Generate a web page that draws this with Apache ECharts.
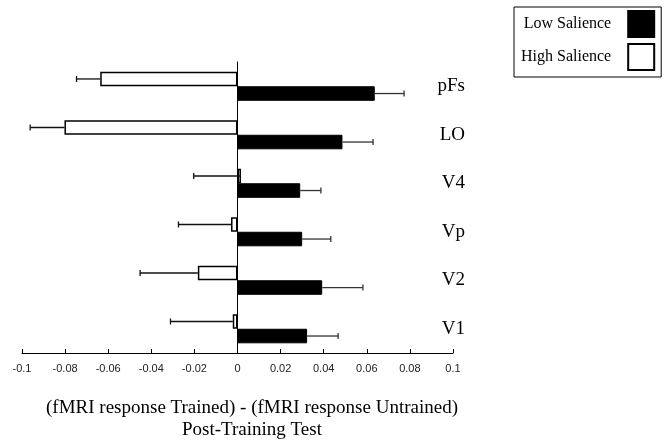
<!DOCTYPE html>
<html>
<head>
<meta charset="utf-8">
<script src="https://cdn.jsdelivr.net/npm/echarts@6/dist/echarts.min.js"></script>
<style>html,body{margin:0;padding:0;background:#fff}#c{width:665px;height:441px}</style>
</head>
<body>
<div id="c"></div>
<script>
var categories = ['pFs', 'LO', 'V4', 'Vp', 'V2', 'V1'];
var lowSalience = [0.0637, 0.0487, 0.0291, 0.0300, 0.0393, 0.0323];
var lowErrorEnd = [0.0773, 0.0629, 0.0387, 0.0433, 0.0582, 0.0467];
var highSalience = [-0.0637, -0.0803, 0.0016, -0.0030, -0.0184, -0.0022];
var highErrorEnd = [-0.0747, -0.0962, -0.0203, -0.0274, -0.0452, -0.0311];
var xTicks = { min: -0.1, max: 0.1, interval: 0.02 };

var SERIF = '"Liberation Serif", "DejaVu Serif", serif';
var SANS = '"Liberation Sans", Arial, sans-serif';

function errData(vals, ends) {
  return vals.map(function (v, i) { return [i, v, ends[i]]; });
}
function errRender(sign, color) {
  return function (params, api) {
    var idx = api.value(0);
    var band = api.size([0, 1])[1];
    var c = api.coord([api.value(1), idx]);
    var e = api.coord([api.value(2), idx]);
    var y = c[1] + sign * band * 0.15;
    var cap = 3;
    return {
      type: 'group',
      children: [
        { type: 'line', shape: { x1: c[0], y1: y, x2: e[0], y2: y }, style: { stroke: color, lineWidth: 1.3 } },
        { type: 'line', shape: { x1: e[0], y1: y - cap, x2: e[0], y2: y + cap }, style: { stroke: color, lineWidth: 1.3 } }
      ]
    };
  };
}

var chart = echarts.init(document.getElementById('c'));
chart.setOption({
  animation: false,
  grid: { left: 22, right: 212, top: 62, bottom: 88, containLabel: false },
  legend: {
    left: 514, top: 7,
    orient: 'vertical',
    align: 'right',
    data: ['Low Salience', 'High Salience'],
    itemWidth: 26, itemHeight: 26, itemGap: 5,
    padding: [3, 6, 6, 7],
    borderColor: '#000', borderWidth: 1,
    icon: 'rect',
    textStyle: { fontFamily: SERIF, fontSize: 16, color: '#000', padding: [0, 12, 0, 0] },
    selectedMode: false
  },
  xAxis: {
    type: 'value',
    min: xTicks.min, max: xTicks.max, interval: xTicks.interval,
    splitLine: { show: false },
    axisLine: { show: true, onZero: false, lineStyle: { color: '#000', width: 1 } },
    axisTick: { show: true, inside: true, length: 4, lineStyle: { color: '#000' } },
    axisLabel: { fontFamily: SANS, fontSize: 11, color: '#222', margin: 10,
      formatter: function (v) { return String(+v.toFixed(2)); } }
  },
  yAxis: [{
    type: 'category',
    data: categories,
    inverse: true,
    axisLine: { show: true, onZero: true, lineStyle: { color: '#000', width: 1 } },
    axisTick: { show: false },
    axisLabel: { show: false }
  }, {
    type: 'category',
    data: categories,
    inverse: true,
    position: 'right',
    axisLine: { show: false },
    axisTick: { show: false },
    axisLabel: { show: true, fontFamily: SERIF, fontSize: 19, color: '#000', align: 'right', margin: 12 }
  }],
  series: [{
    name: 'High Salience',
    type: 'bar',
    data: highSalience,
    barGap: '0%', barCategoryGap: '40%',
    itemStyle: { color: '#fff', borderColor: '#000', borderWidth: 1.5 }
  }, {
    name: 'Low Salience',
    type: 'bar',
    data: lowSalience,
    barGap: '0%', barCategoryGap: '40%',
    itemStyle: { color: '#000', borderColor: '#000', borderWidth: 1 }
  }, {
    type: 'custom',
    name: 'highErr',
    data: errData(highSalience, highErrorEnd),
    renderItem: errRender(-1, '#111'),
    encode: { x: [1, 2], y: 0 },
    silent: true, z: 3
  }, {
    type: 'custom',
    name: 'lowErr',
    data: errData(lowSalience, lowErrorEnd),
    renderItem: errRender(1, '#333'),
    encode: { x: [1, 2], y: 0 },
    silent: true, z: 3
  }],
  graphic: [{
    type: 'text',
    x: 252, y: 397,
    style: {
      text: '(fMRI response Trained) - (fMRI response Untrained)\nPost-Training Test',
      fontFamily: SERIF, fontSize: 19, lineHeight: 22,
      fill: '#000', textAlign: 'center', textVerticalAlign: 'top'
    }
  }]
});
</script>
</body>
</html>
